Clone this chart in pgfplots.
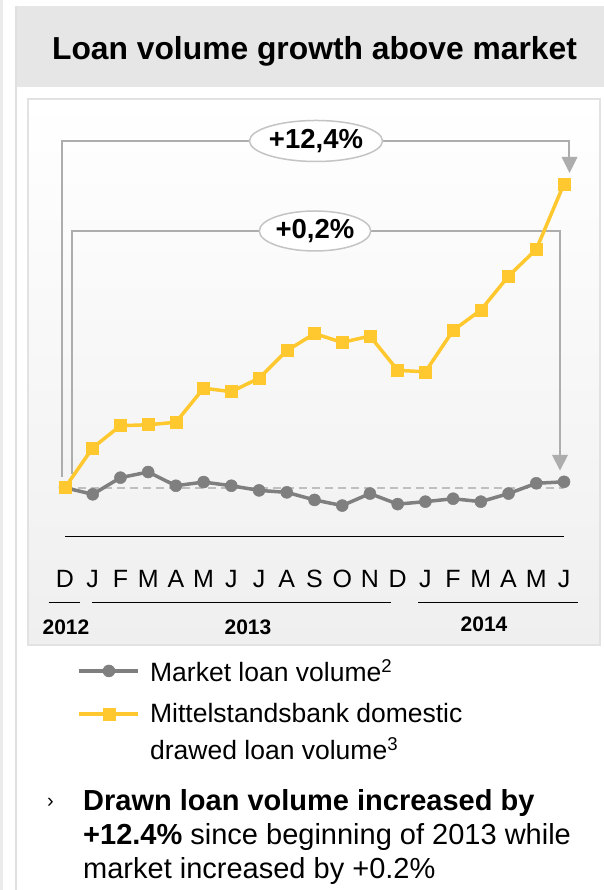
\documentclass[border=0pt]{standalone}
\usepackage{fontspec}
\setmainfont{Liberation Sans}
\usepackage{pgfplots}
\pgfplotsset{compat=1.18}
\usetikzlibrary{shapes.geometric}
\definecolor{band}{HTML}{EBEBEB}
\definecolor{vline}{HTML}{E0E0E0}
\definecolor{header}{HTML}{E6E6E6}
\definecolor{panelb}{HTML}{E2E2E2}
\definecolor{panelbot}{HTML}{EFEFEF}
\definecolor{brk}{HTML}{ADADAD}
\definecolor{ell}{HTML}{C4C4C4}
\definecolor{dgray}{HTML}{7F7F7F}
\definecolor{ylw}{HTML}{FFC82E}
\definecolor{dashgray}{HTML}{BFBFBF}
\pgfplotsset{
  legA/.style={legend image code/.code={\path (0pt,-27pt); \draw[mark repeat=2, mark phase=2, ##1] plot coordinates {(0pt,0pt) (29.5pt,0pt) (59pt,0pt)};}},
  legB/.style={legend image code/.code={\path (0pt,-18pt); \draw[mark repeat=2, mark phase=2, ##1] plot coordinates {(0pt,0pt) (29.5pt,0pt) (59pt,0pt)};}},
}
\begin{document}
\begin{tikzpicture}[x=1pt,y=1pt]
% background and frames
\fill[white] (0,0) rectangle (604,890);
\fill[band] (0,0) rectangle (3,890);
\fill[vline] (15,0) rectangle (17,884);
\fill[header] (17,884) rectangle (604,803);
\node[anchor=base, inner sep=0pt] at (314.5,830.7) {\fontsize{31.8}{36}\selectfont\bfseries Loan volume growth above market};
\shade[top color=white, bottom color=panelbot] (28,791) rectangle (600,245);
\draw[panelb, line width=2pt] (28,791) rectangle (600,245);
% brackets
\draw[brk, line width=2pt] (62,413) -- (62,749) -- (569,749) -- (569,732);
\fill[brk] (561.5,733) -- (577.5,733) -- (569.5,717) -- cycle;
\draw[brk, line width=2pt] (71.5,416) -- (71.5,659) -- (559.6,659) -- (559.6,434);
\fill[brk] (552,435) -- (568,435) -- (560,419.5) -- cycle;
\node[ellipse, draw=ell, line width=1.5pt, fill=white, minimum width=128pt, minimum height=41pt, inner sep=0pt] at (316,749) {\fontsize{27.5}{30}\selectfont\bfseries +12,4\%};
\node[ellipse, draw=ell, line width=1.5pt, fill=white, minimum width=107pt, minimum height=40pt, inner sep=0pt] at (315,659) {\fontsize{27.5}{30}\selectfont\bfseries +0,2\%};
% year lines and labels
\draw[black, line width=1.5pt] (48.5,287.3) -- (80,287.3);
\draw[black, line width=1.5pt] (92,287.3) -- (391,287.3);
\draw[black, line width=1.5pt] (418,287.3) -- (578,287.3);
\node[anchor=base, inner sep=0pt] at (66,255) {\fontsize{21}{24}\selectfont\bfseries 2012};
\node[anchor=base, inner sep=0pt] at (248,255.7) {\fontsize{21}{24}\selectfont\bfseries 2013};
\node[anchor=base, inner sep=0pt] at (484,258) {\fontsize{21}{24}\selectfont\bfseries 2014};
% chart
\begin{axis}[
  at={(65pt,353.3pt)}, anchor=south west,
  scale only axis, width=499pt, height=367.5pt,
  xmin=0, xmax=18, ymin=98, ymax=113,
  clip=false,
  axis x line*=bottom, axis y line=none,
  x axis line style={-, black, line width=1.6pt},
  xtick={0,...,18},
  xticklabels={D,J,F,M,A,M,J,J,A,S,O,N,D,J,F,M,A,M,J},
  major tick length=0pt,
  xticklabel style={font=\fontsize{25}{28}\selectfont, anchor=base, yshift=-50.6pt, inner sep=0pt},
  legend cell align=left,
  legend style={at={(0.025,-0.3328)}, anchor=north west, draw=none, fill=none,
    font=\fontsize{26.5}{30}\selectfont, row sep=4pt, column sep=10pt, inner sep=0pt,
    nodes={inner sep=0pt}},
]
\draw[dashgray, line width=2pt, dash pattern=on 8pt off 5pt] (axis cs:0,100) -- (axis cs:18,100);
\addplot[dgray, line width=3.5pt, mark=*, mark size=6pt, mark options={solid, fill=dgray, line width=0.5pt}, legA] coordinates {
(0,100) (1,99.73) (2,100.41) (3,100.64) (4,100.08) (5,100.23) (6,100.08) (7,99.89) (8,99.81) (9,99.50)
(10,99.27) (11,99.76) (12,99.33) (13,99.43) (14,99.55) (15,99.43) (16,99.76) (17,100.18) (18,100.24)};
\addlegendentry{Market loan volume\textsuperscript{2}}
\addplot[ylw, line width=3.5pt, mark=square*, mark size=6pt, mark options={solid, fill=ylw, line width=0.5pt}, legB] coordinates {
(0,100) (1,101.63) (2,102.53) (3,102.57) (4,102.67) (5,104.06) (6,103.92) (7,104.47) (8,105.59) (9,106.29)
(10,105.93) (11,106.19) (12,104.79) (13,104.73) (14,106.42) (15,107.25) (16,108.64) (17,109.73) (18,112.4)};
\addlegendentry{Mittelstandsbank domestic}
\addlegendimage{empty legend}
\addlegendentry{drawed loan volume\textsuperscript{3}}
\end{axis}
% bullet text
\node[anchor=base west, inner sep=0pt] at (47,82) {\fontsize{20}{24}\selectfont ›};
\node[anchor=base west, inner sep=0pt] at (83,79) {\fontsize{29}{34}\selectfont\bfseries Drawn loan volume increased by};
\node[anchor=base west, inner sep=0pt] at (83,45) {\fontsize{29}{34}\selectfont\textbf{+12.4\%} since beginning of 2013 while};
\node[anchor=base west, inner sep=0pt] at (83,12) {\fontsize{29}{34}\selectfont market increased by +0.2\%};
\end{tikzpicture}
\end{document}
